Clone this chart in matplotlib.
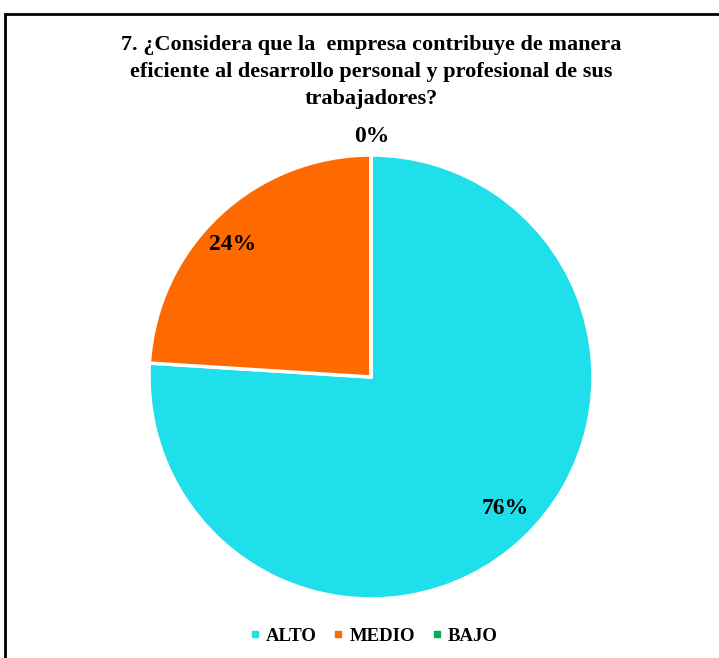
import matplotlib.pyplot as plt
from matplotlib.patches import Rectangle
from matplotlib.lines import Line2D

# Data
categorias = ['ALTO', 'MEDIO', 'BAJO']
valores = [76, 24, 0]
etiquetas = ['76%', '24%', '0%']
colores = ['#1FDFEA', '#FF6A00', '#00B050']

titulo = ('7. ¿Considera que la  empresa contribuye de manera\n'
          'eficiente al desarrollo personal y profesional de sus\n'
          'trabajadores?')

plt.rcParams['font.family'] = ['Liberation Serif', 'DejaVu Serif']

W, H = 719, 658
fig = plt.figure(figsize=(W / 100, H / 100), dpi=100)

# border of the chart area
fig.add_artist(Rectangle((5 / W, -0.01), 1.1, (H - 14) / H + 0.01,
                         transform=fig.transFigure, fill=False,
                         edgecolor='black', linewidth=2))

fig.text(371 / W, 1 - 72 / H, titulo, ha='center', va='center',
         fontsize=16, fontweight='bold', linespacing=1.45)

# pie axes
r = 222
cx, cy = 371, 377
pax = fig.add_axes([(cx - r) / W, 1 - (cy + r) / H, 2 * r / W, 2 * r / H])
wedges, _ = pax.pie(valores, colors=colores, startangle=90, counterclock=False,
                    wedgeprops=dict(edgecolor='white', linewidth=2.5))
pax.set_xlim(-1, 1)
pax.set_ylim(-1, 1)
pax.set_aspect('auto')

# value labels
pos = [(505, 508), (233, 244), (372, 137)]
for lab, (x, y) in zip(etiquetas, pos):
    fig.text(x / W, 1 - y / H, lab, ha='center', va='center',
             fontsize=17, fontweight='bold', zorder=10)

handles = [Line2D([], [], marker='s', linestyle='', markersize=4.5,
                  markerfacecolor=c, markeredgecolor=c) for c in colores]
fig.legend(handles, categorias, loc='center', bbox_to_anchor=(374 / W, 1 - 636 / H),
           ncol=3, frameon=False, handlelength=0.45,
           handletextpad=0.35, columnspacing=0.95,
           prop={'weight': 'bold', 'size': 13.5})

fig.savefig('out.png', dpi=100)
